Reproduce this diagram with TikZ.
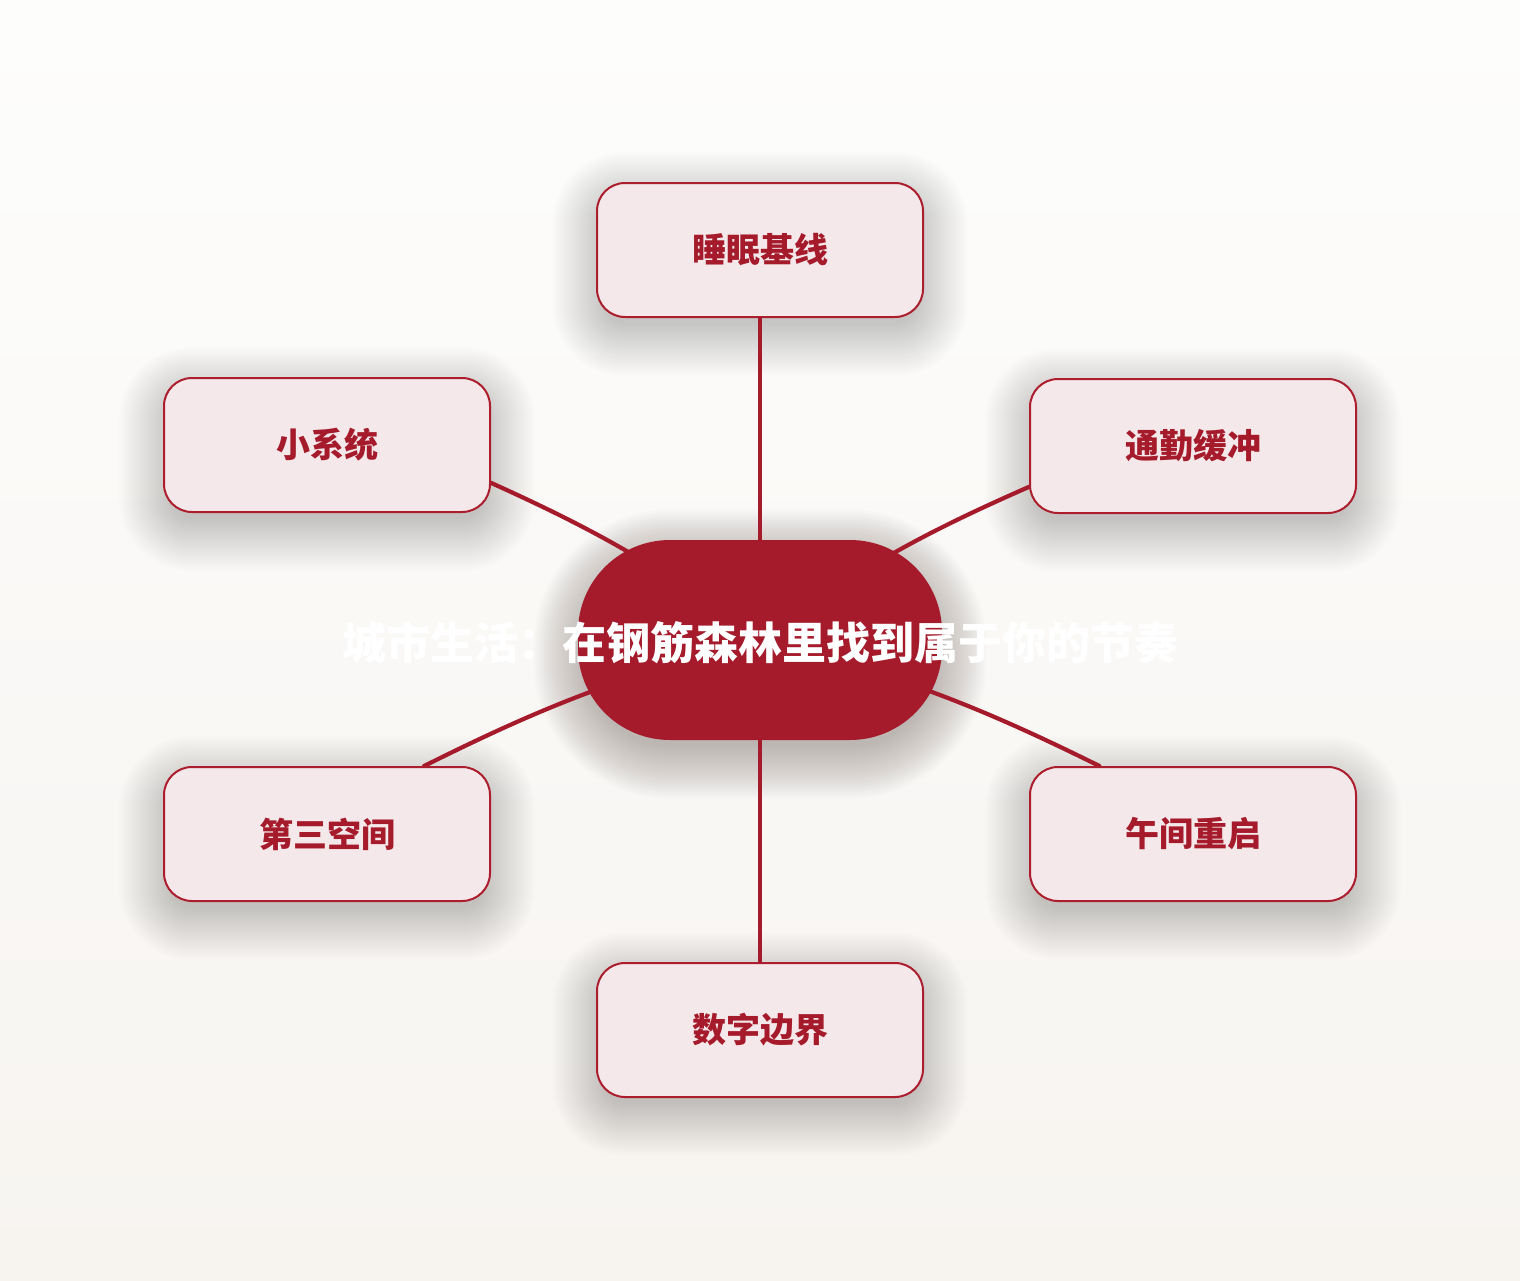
\documentclass[tikz,border=0pt]{standalone}
\usepackage{fontspec}
\setmainfont{Noto Sans CJK SC}
\pgfdeclarelayer{bg}\pgfdeclarelayer{shad}\pgfdeclarelayer{links}
\pgfsetlayers{bg,shad,links,main}
\definecolor{crim}{HTML}{A51B2B}
\definecolor{boxfill}{HTML}{F4E8EA}
\definecolor{bordercol}{HTML}{AC1E2E}
\definecolor{bgtop}{HTML}{FDFDFC}
\definecolor{bgbot}{HTML}{F7F4F0}
\definecolor{shadowcol}{HTML}{3A2E28}
\begin{document}
\begin{tikzpicture}[x=0.5pt,y=-0.5pt,
  topic/.style={draw=bordercol, line width=1pt, fill=boxfill, rounded corners=14pt,
    minimum width=163pt, minimum height=67pt, inner sep=0pt,
    font=\fontsize{17}{20}\selectfont\bfseries, text=crim},
  hub/.style={fill=crim, rounded corners=46pt, minimum width=182pt, minimum height=100pt, inner sep=0pt},
  title/.style={font=\fontsize{22}{26}\selectfont\bfseries, text=white, inner sep=0pt},
  link/.style={draw=crim, line width=2.1pt, line cap=round},
  shadowlayer/.style={fill=shadowcol, fill opacity=0.009}]
\newcommand\lbl[1]{\raisebox{-1.5pt}{#1}}
\begin{pgfonlayer}{bg}
  \fill[top color=bgtop, bottom color=bgbot] (0,0) rectangle (1520,1280);
\end{pgfonlayer}
\useasboundingbox (0,0) rectangle (1520,1280);

\node[hub] (hubnode) at (760,640) {};
\node[title] (titletext) at (760,643) {城市生活：在钢筋森林里找到属于你的节奏};

\node[topic] (sleep) at (760,250) {\lbl{睡眠基线}};
\node[topic] (small) at (327,445) {\lbl{小系统}};
\node[topic] (commute) at (1193,446) {\lbl{通勤缓冲}};
\node[topic] (third) at (327,834) {\lbl{第三空间}};
\node[topic] (noon) at (1193,834) {\lbl{午间重启}};
\node[topic] (digital) at (760,1030) {\lbl{数字边界}};

\begin{pgfonlayer}{shad}
  \foreach \n in {sleep,small,commute,third,noon,digital}{
    \foreach \e in {-8,-6,...,44}{
      \pgfmathsetmacro\rc{max(14+\e/2,2)}
      \fill[shadowlayer, rounded corners=\rc pt]
        ([shift={(-\e,-\e+14)}]\n.north west) rectangle ([shift={(\e,\e+14)}]\n.south east);
    }
  }
  \foreach \e in {-8,-6,...,44}{
    \pgfmathsetmacro\rc{max(46+\e/2,2)}
    \fill[shadowlayer, fill opacity=0.011, rounded corners=\rc pt]
      ([shift={(-\e,-\e+14)}]hubnode.north west) rectangle ([shift={(\e,\e+14)}]hubnode.south east);
  }
\end{pgfonlayer}

\begin{pgfonlayer}{links}
  \draw[link] (sleep.south) -- (hubnode.center);
  \draw[link] (hubnode.center) -- (digital.north);
  \draw[link] (small.-13.5) to[bend left=6] (hubnode.center);
  \draw[link] (commute.-166.2) to[bend right=6] (hubnode.center);
  \draw[link] (third.35.8) to[bend left=6] (hubnode.center);
  \draw[link] (noon.144.2) to[bend right=6] (hubnode.center);
\end{pgfonlayer}
\end{tikzpicture}
\end{document}
